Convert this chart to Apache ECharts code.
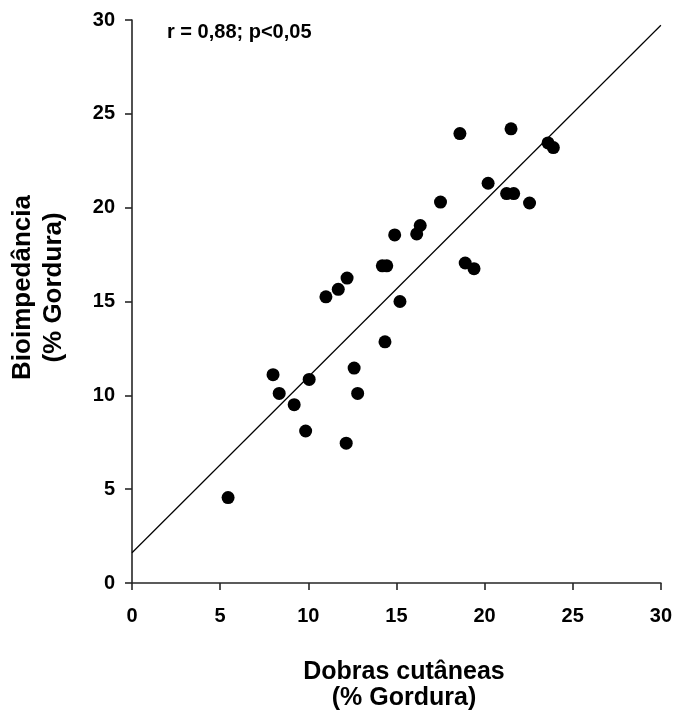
<!DOCTYPE html>
<html>
<head>
<meta charset="utf-8">
<script src="https://cdn.jsdelivr.net/npm/echarts@6/dist/echarts.min.js"></script>
<style>
  html, body { margin: 0; padding: 0; background: #fff; }
  #chart { width: 675px; height: 719px; }
</style>
</head>
<body>
<div id="chart"></div>
<script>
// dobras cutâneas (x) vs bioimpedância (y), % gordura
var dobras = [5.45, 8.0, 8.35, 9.2, 9.85, 10.05, 12.15, 12.6, 12.8, 14.35,
              15.2, 11.0, 11.7, 12.2, 14.2, 14.45, 14.9, 16.15, 16.35, 17.5,
              18.6, 18.9, 19.4, 20.2, 21.25, 21.65, 22.55, 21.5, 23.6, 23.9];
var bioimp = [4.55, 11.1, 10.1, 9.5, 8.1, 10.85, 7.45, 11.45, 10.1, 12.85,
              15.0, 15.25, 15.65, 16.25, 16.9, 16.9, 18.55, 18.6, 19.05, 20.3,
              23.95, 17.05, 16.75, 21.3, 20.75, 20.75, 20.25, 24.2, 23.45, 23.2];
var ticks = [0, 5, 10, 15, 20, 25, 30];

// reta de regressão
var intercepto = 1.61;
var inclinacao = 0.937;

var pontos = dobras.map(function (v, i) { return [v, bioimp[i]]; });
var reta = [ticks[0], ticks[ticks.length - 1]].map(function (x) {
    return [x, intercepto + inclinacao * x];
});

var fonte = '"Liberation Sans", Arial, sans-serif';
var eixo = {
    type: 'value', min: 0, max: 30, interval: 5,
    axisLine: { show: true, onZero: false, lineStyle: { color: '#262626', width: 1.6 } },
    axisTick: { show: true, length: 7, lineStyle: { color: '#262626', width: 1.6 } },
    axisLabel: { color: '#000', fontFamily: fonte, fontWeight: 'bold', fontSize: 20 },
    splitLine: { show: false }
};

var chart = echarts.init(document.getElementById('chart'));
chart.setOption({
    animation: false,
    backgroundColor: '#fff',
    grid: { left: 132, right: 13, top: 20, bottom: 136 },
    xAxis: Object.assign({}, eixo, {
        axisLabel: Object.assign({}, eixo.axisLabel, { margin: 23 })
    }),
    yAxis: Object.assign({}, eixo, {
        axisLabel: Object.assign({}, eixo.axisLabel, { margin: 17 })
    }),
    graphic: [{
        type: 'text', left: 167, top: 22,
        style: { text: 'r = 0,88; p<0,05', fill: '#000', font: 'bold 20px ' + fonte }
    }, {
        type: 'text', x: 404, y: 685,
        style: {
            text: 'Dobras cutâneas\n(% Gordura)', fill: '#000',
            font: 'bold 25px ' + fonte, lineHeight: 26,
            textAlign: 'center', textVerticalAlign: 'middle'
        }
    }, {
        type: 'text', x: 38.5, y: 287.5, rotation: Math.PI / 2,
        style: {
            text: 'Bioimpedância\n(% Gordura)', fill: '#000',
            font: 'bold 26px ' + fonte, lineHeight: 31,
            textAlign: 'center', textVerticalAlign: 'middle'
        }
    }],
    series: [{
        type: 'line', data: reta, symbol: 'none', silent: true,
        lineStyle: { color: '#000', width: 1.2 }
    }, {
        type: 'scatter', data: pontos, symbolSize: 13,
        itemStyle: { color: '#000', opacity: 1 }
    }]
});
</script>
</body>
</html>
